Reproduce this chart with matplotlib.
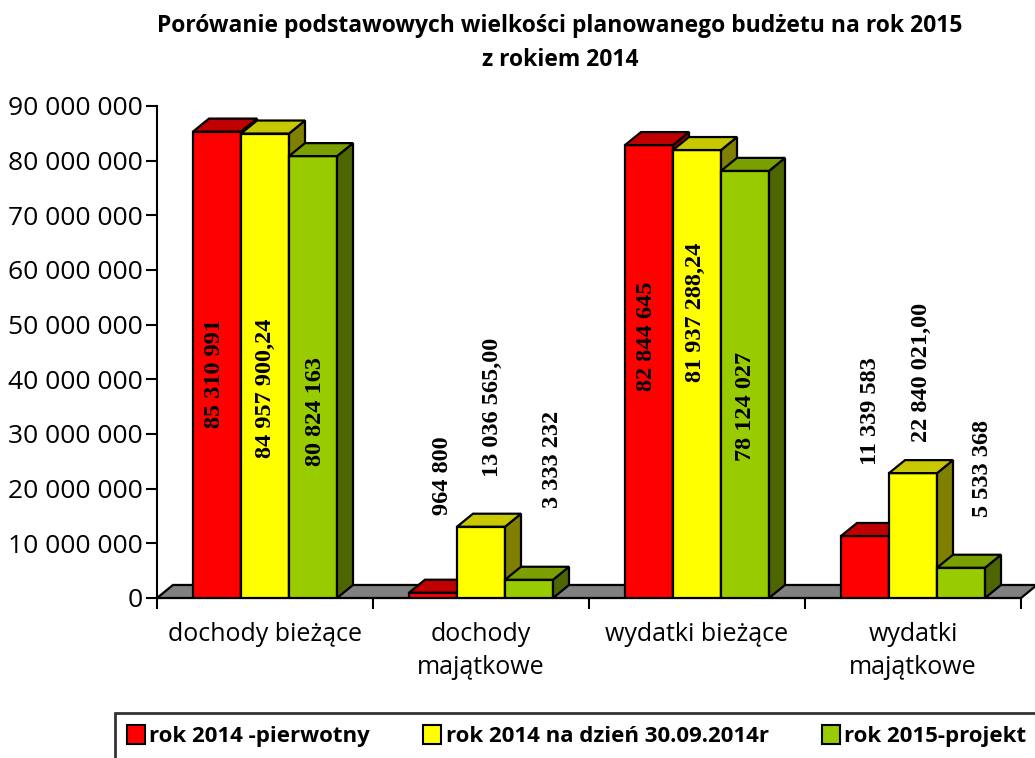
import matplotlib.pyplot as plt
from matplotlib.patches import Polygon, Patch

# data
categories = ['dochody bieżące', 'dochody\nmajątkowe', 'wydatki bieżące', 'wydatki\nmajątkowe']
series_names = ['rok 2014 -pierwotny', 'rok 2014 na dzień 30.09.2014r', 'rok 2015-projekt']
rok2014_pierwotny = [85310991, 964800, 82844645, 11339583]
rok2014_0930 = [84957900.24, 13036565.00, 81937288.24, 22840021.00]
rok2015_projekt = [80824163, 3333232, 78124027, 5533368]
labels_pierwotny = ['85 310 991', '964 800', '82 844 645', '11 339 583']
labels_0930 = ['84 957 900,24', '13 036 565,00', '81 937 288,24', '22 840 021,00']
labels_projekt = ['80 824 163', '3 333 232', '78 124 027', '5 533 368']
yticks = list(range(0, 90000001, 10000000))

# where Excel put the value labels (centre of text, value units) and a small x shift
label_y = [[41.0e6, 22.3e6, 47.9e6, 34.2e6],
           [38.4e6, 34.8e6, 52.3e6, 41.2e6],
           [34.2e6, 25.4e6, 35.1e6, 23.6e6]]
label_dx = [[-0.01, 0.045, -0.01, 0.025],
            [0.0, 0.055, -0.005, 0.04],
            [0.01, 0.11, 0.0, 0.10]]

front = ['#FF0000', '#FFFF00', '#99CC00']
top = ['#C00000', '#C8C800', '#7A9F00']
side = ['#990000', '#808000', '#4D6600']

plt.rcParams['font.family'] = ['Open Sans', 'DejaVu Sans']

fig = plt.figure(figsize=(10.35, 7.58), dpi=100)
ax = fig.add_axes([0.1517, 0.2111, 0.8348, 0.6491])

w = 2 / 9
ddx = 0.074
ddy = 2.38e6
lw = 1.6

# floor
floor = Polygon([(-0.5, 0), (3.5, 0), (3.5 + ddx, ddy), (-0.5 + ddx, ddy)],
                closed=True, facecolor='#808080', edgecolor='black', lw=lw,
                clip_on=False, zorder=1)
ax.add_patch(floor)

all_vals = [rok2014_pierwotny, rok2014_0930, rok2015_projekt]
all_labels = [labels_pierwotny, labels_0930, labels_projekt]

z = 2
for ci in range(len(categories)):
    for si, vals in enumerate(all_vals):
        h = vals[ci]
        x0 = ci - 1.5 * w + si * w
        ax.bar(x0, h, width=w, align='edge', color=front[si], edgecolor='black',
               lw=lw, zorder=z)
        ax.add_patch(Polygon([(x0 + w, 0), (x0 + w + ddx, ddy), (x0 + w + ddx, h + ddy), (x0 + w, h)],
                             closed=True, facecolor=side[si], edgecolor='black', lw=lw,
                             clip_on=False, zorder=z))
        ax.add_patch(Polygon([(x0, h), (x0 + w, h), (x0 + w + ddx, h + ddy), (x0 + ddx, h + ddy)],
                             closed=True, facecolor=top[si], edgecolor='black', lw=lw,
                             clip_on=False, zorder=z))
        z += 1
        ax.text(x0 + w / 2 + label_dx[si][ci], label_y[si][ci], all_labels[si][ci],
                rotation=90, ha='center', va='center', fontsize=17.5, fontweight='bold',
                family='Liberation Serif', zorder=50)

ax.set_xlim(-0.5, 3.5)
ax.set_ylim(0, 90000000)
ax.set_yticks(yticks)
ax.set_yticklabels([f'{v:,}'.replace(',', ' ') for v in yticks], fontsize=19)
ax.set_xticks([-0.5, 0.5, 1.5, 2.5, 3.5])
ax.set_xticklabels([])
ax.set_xticks(range(len(categories)), minor=True)
ax.set_xticklabels(categories, minor=True, fontsize=18, linespacing=1.45)
ax.tick_params(axis='x', which='minor', length=0, pad=17)
ax.tick_params(axis='x', which='major', length=8, width=1.5, direction='out')
ax.tick_params(axis='y', length=8, width=1.5, direction='out', pad=2)
for s in ['top', 'right']:
    ax.spines[s].set_visible(False)
ax.spines['left'].set_linewidth(1.5)
ax.spines['bottom'].set_linewidth(1.5)
ax.spines['bottom'].set_zorder(0)

fig.text(0.541, 0.982, 'Porówanie podstawowych wielkości planowanego budżetu na rok 2015\nz rokiem 2014',
         ha='center', va='top', fontsize=16.5, fontweight='bold', linespacing=1.55)

handles = [Patch(facecolor=front[i], edgecolor='black', lw=1.5) for i in range(3)]
leg = fig.legend(handles, series_names, loc='upper left', bbox_to_anchor=(0.111, 0.0594),
                 ncol=3, frameon=True, fancybox=False,
                 prop={'weight': 'bold', 'size': 16}, handlelength=0.8, handleheight=0.9,
                 handletextpad=0.2, columnspacing=2.4, borderpad=0.55, borderaxespad=0)
leg.get_frame().set_edgecolor('black')
leg.get_frame().set_linewidth(2)

fig.savefig('out.png', dpi=100)
